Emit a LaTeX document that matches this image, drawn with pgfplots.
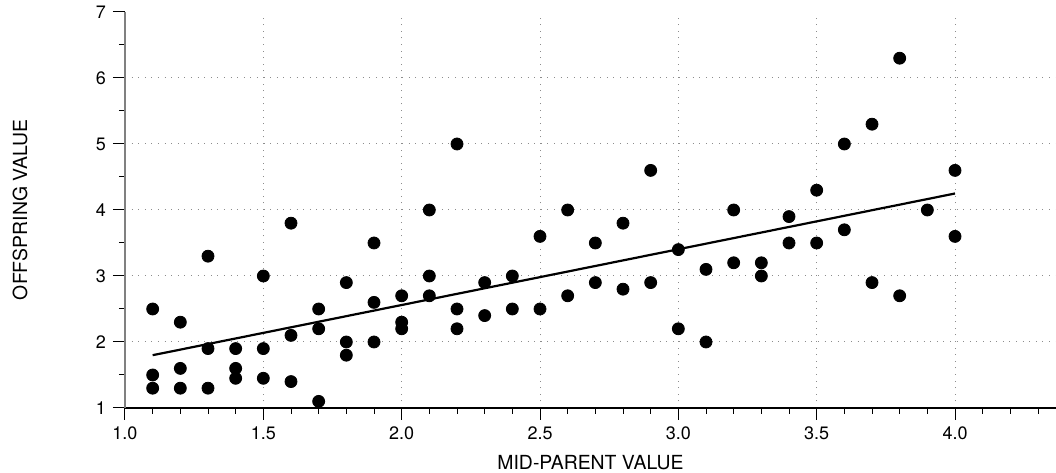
\documentclass[border=0pt]{standalone}
\usepackage{fontspec}
\setmainfont{TeX Gyre Heros}
\usepackage{pgfplots}
\usepackage{pgfplotstable}
\pgfplotsset{compat=1.18}
\pgfplotstableread{
x y
1.1 2.5
1.1 1.5
1.1 1.3
1.2 2.3
1.2 1.6
1.2 1.3
1.3 3.3
1.3 1.9
1.3 1.3
1.4 1.9
1.4 1.6
1.4 1.45
1.5 3.0
1.5 1.9
1.5 1.45
1.6 3.8
1.6 2.1
1.6 1.4
1.7 2.5
1.7 2.2
1.7 1.1
1.8 2.9
1.8 2.0
1.8 1.8
1.9 3.5
1.9 2.6
1.9 2.0
2.0 2.7
2.0 2.3
2.0 2.2
2.1 4.0
2.1 3.0
2.1 2.7
2.2 5.0
2.2 2.5
2.2 2.2
2.3 2.9
2.3 2.4
2.4 3.0
2.4 2.5
2.5 3.6
2.5 2.5
2.6 4.0
2.6 2.7
2.7 3.5
2.7 2.9
2.8 3.8
2.8 2.8
2.9 4.6
2.9 2.9
3.0 3.4
3.0 2.2
3.1 3.1
3.1 2.0
3.2 4.0
3.2 3.2
3.3 3.2
3.3 3.0
3.4 3.9
3.4 3.5
3.5 4.3
3.5 3.5
3.6 5.0
3.6 3.7
3.7 5.3
3.7 2.9
3.8 6.3
3.8 2.7
3.9 4.0
4.0 4.6
4.0 3.6
}\points
\begin{document}
\begin{tikzpicture}
\begin{axis}[
  scale only axis, width=465.5pt, height=198pt,
  xmin=1, xmax=4.365, ymin=1, ymax=7,
  axis lines=left, axis line style={-},
  x axis line style={black, line width=0.6pt},
  y axis line style={black!50, line width=1pt},
  xtick={1,1.5,2,2.5,3,3.5,4},
  minor xtick={1.1,1.2,1.3,1.4,1.6,1.7,1.8,1.9,2.1,2.2,2.3,2.4,2.6,2.7,2.8,2.9,3.1,3.2,3.3,3.4,3.6,3.7,3.8,3.9,4.1,4.2,4.3},
  ytick={1,2,3,4,5,6},
  extra y ticks={7}, extra y tick style={grid=none},
  minor ytick={1.5,2.5,3.5,4.5,5.5,6.5},
  tick align=outside, major tick length=6pt, minor tick length=3pt,
  every tick/.style={black, line width=0.5pt},
  grid=major,
  major grid style={black!45, line width=0.5pt, dash pattern=on 0.5pt off 2.8pt},
  xticklabel style={/pgf/number format/.cd, fixed, fixed zerofill, precision=1},
  /pgf/number format/assume math mode=true,
  tick label style={font=\fontsize{9}{10}\selectfont},
  label style={font=\fontsize{9.7}{11}\selectfont},
  xlabel={MID-PARENT VALUE}, ylabel={OFFSPRING VALUE},
  xlabel style={at={(axis description cs:0.5,-0.139)}, anchor=center},
  ylabel style={at={(axis description cs:-0.1128,0.5)}, anchor=center},
]
\addplot[black, line width=1.1pt] coordinates {(1.1,1.8) (4.0,4.25)};
\addplot[only marks, mark=*, mark size=3pt, black] table[x=x, y=y] {\points};
\coordinate (SW) at (rel axis cs:0,0);
\coordinate (NE) at (rel axis cs:1,1);
\end{axis}
\pgfresetboundingbox
\path ([xshift=-62.5pt,yshift=-32.5pt]SW) rectangle ([yshift=6pt]NE);
\end{tikzpicture}
\end{document}
